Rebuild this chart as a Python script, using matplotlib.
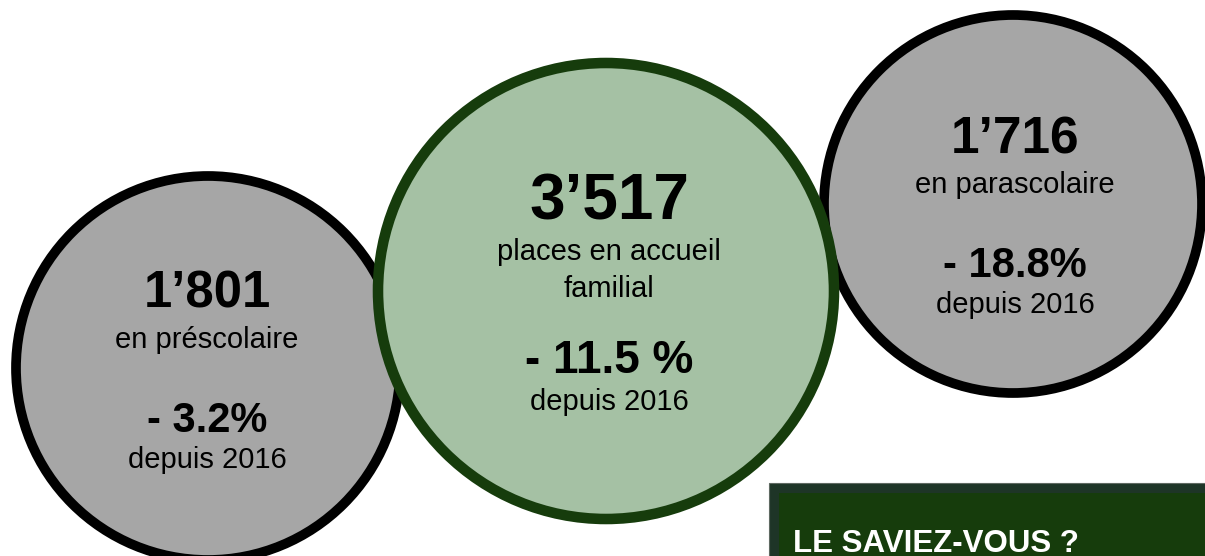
import matplotlib
matplotlib.use("Agg")
import matplotlib.pyplot as plt
from matplotlib.patches import Circle, Rectangle

plt.rcParams['font.family'] = ['Liberation Sans', 'DejaVu Sans']

# Data
categories = ["en préscolaire", "places en accueil\nfamilial", "en parascolaire"]
values = ["1’801", "3’517", "1’716"]
changes = ["- 3.2%", "- 11.5 %", "- 18.8%"]
since_label = "depuis 2016"
box_title = "LE SAVIEZ-VOUS ?"

W, H = 1205, 556
fig = plt.figure(figsize=(W / 100, H / 100), dpi=100)
ax = fig.add_axes([0, 0, 1, 1])
ax.set_xlim(0, W)
ax.set_ylim(H, 0)
ax.set_aspect('equal')
ax.axis('off')

GRAY = "#a6a6a6"
GREEN_FILL = "#a5c1a4"
GREEN_EDGE = "#163c0c"

# circles: (cx, cy, r_path, face, edge, lw_pt, zorder)
circles = [
    (208, 368, 192, GRAY, "black", 7.0, 1),
    (1013, 204, 189, GRAY, "black", 7.0, 2),
    (606, 291, 228, GREEN_FILL, GREEN_EDGE, 7.6, 3),
]
for cx, cy, r, fc, ec, lw, z in circles:
    ax.add_patch(Circle((cx, cy), r, facecolor=fc, edgecolor=ec, lw=lw, zorder=z))

# text layout per circle: (cx, y_value, y_label, y_change, y_since, fs_value, fs_change)
layout = [
    (207, 308, 348, 432, 468, 36.5, 30),
    (609, 220, 260, 373, 410, 46, 33),
    (1015, 153, 193, 277, 313, 37, 30),
]
for i, (cx, yv, yl, yc, ys, fsv, fsc) in enumerate(layout):
    z = 10
    ax.text(cx, yv, values[i], ha='center', va='baseline', fontsize=fsv,
            fontweight='bold', color='black', zorder=z)
    lines = categories[i].split("\n")
    for k, ln in enumerate(lines):
        ax.text(cx, yl + 37 * k, ln, ha='center', va='baseline', fontsize=21,
                color='black', zorder=z)
    ax.text(cx, yc, changes[i], ha='center', va='baseline', fontsize=fsc,
            fontweight='bold', color='black', zorder=z)
    ax.text(cx, ys, since_label, ha='center', va='baseline', fontsize=21,
            color='black', zorder=z)

# "Le saviez-vous" box
ax.add_patch(Rectangle((769, 483), 460, 100, facecolor="#1e3527",
                       edgecolor="#5f6a62", lw=0.8, zorder=4))
ax.add_patch(Rectangle((779, 493), 450, 100, facecolor="#163c0c",
                       edgecolor='none', zorder=5))
ax.text(793, 552, box_title, ha='left', va='baseline', fontsize=22.5,
        fontweight='bold', color='white', zorder=6)

fig.savefig("out.png", dpi=100)
